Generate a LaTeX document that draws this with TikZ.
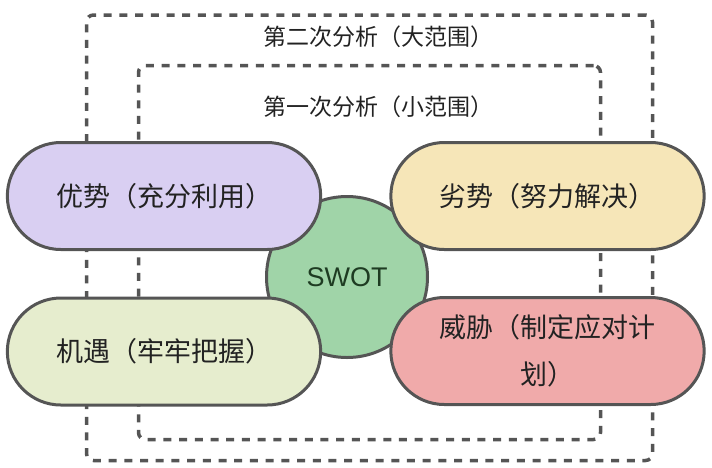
\documentclass[tikz,border=0pt]{standalone}
\usepackage{fontspec}
\setmainfont{Noto Sans CJK SC}
\newfontfamily\latinsans{Liberation Sans}
\usepackage{xcolor}
\usetikzlibrary{positioning, shapes.misc}

\definecolor{edgegray}{HTML}{555555}
\definecolor{textgray}{HTML}{222222}
\definecolor{swotgreen}{HTML}{A0D4A8}
\definecolor{swottext}{HTML}{1E3B22}
\definecolor{strengthfill}{HTML}{D9CFF2}
\definecolor{weakfill}{HTML}{F6E6B8}
\definecolor{chancefill}{HTML}{E6EDCE}
\definecolor{threatfill}{HTML}{F0AAAA}

\begin{document}
\begin{tikzpicture}[x=1pt, y=-1pt, every node/.style={text=textgray},
    pill/.style={draw=edgegray, line width=3pt, rounded rectangle, minimum width=320pt, minimum height=107pt, align=center, font=\fontsize{27}{47}\selectfont},
    scopebox/.style={draw=edgegray, line width=3.5pt, dash pattern=on 8pt off 7.7pt, rounded corners=7pt},
    scopelabel/.style={font=\fontsize{23}{28}\selectfont}]
       \useasboundingbox (0,0) rectangle (712,467);

       % Scopes
       \node[scopebox, minimum width=566pt, minimum height=445.5pt] (wide) at (369.5,237.75) {};
       \node[scopebox, minimum width=462pt, minimum height=374pt] (narrow) at (369.5,252.5) {};
       \node[scopelabel] (widelabel) at (378,37) {第二次分析（大范围）};
       \node[scopelabel] (narrowlabel) at (378,107) {第一次分析（小范围）};

       % Nodes
       \node[circle, draw=edgegray, line width=3pt, fill=swotgreen, minimum size=161pt, text=swottext, font=\latinsans\fontsize{27}{32}\selectfont] (swot) at (347,277) {SWOT};
       \node[pill, fill=strengthfill] (strength) at (164,196) {优势（充分利用）};
       \node[pill, fill=weakfill] (weakness) at (547.5,196) {劣势（努力解决）};
       \node[pill, fill=chancefill] (chance) at (164,351.5) {机遇（牢牢把握）};
       \node[pill, fill=threatfill] (threat) at (547.5,351) {威胁（制定应对计\\划）};
\end{tikzpicture}
\end{document}
